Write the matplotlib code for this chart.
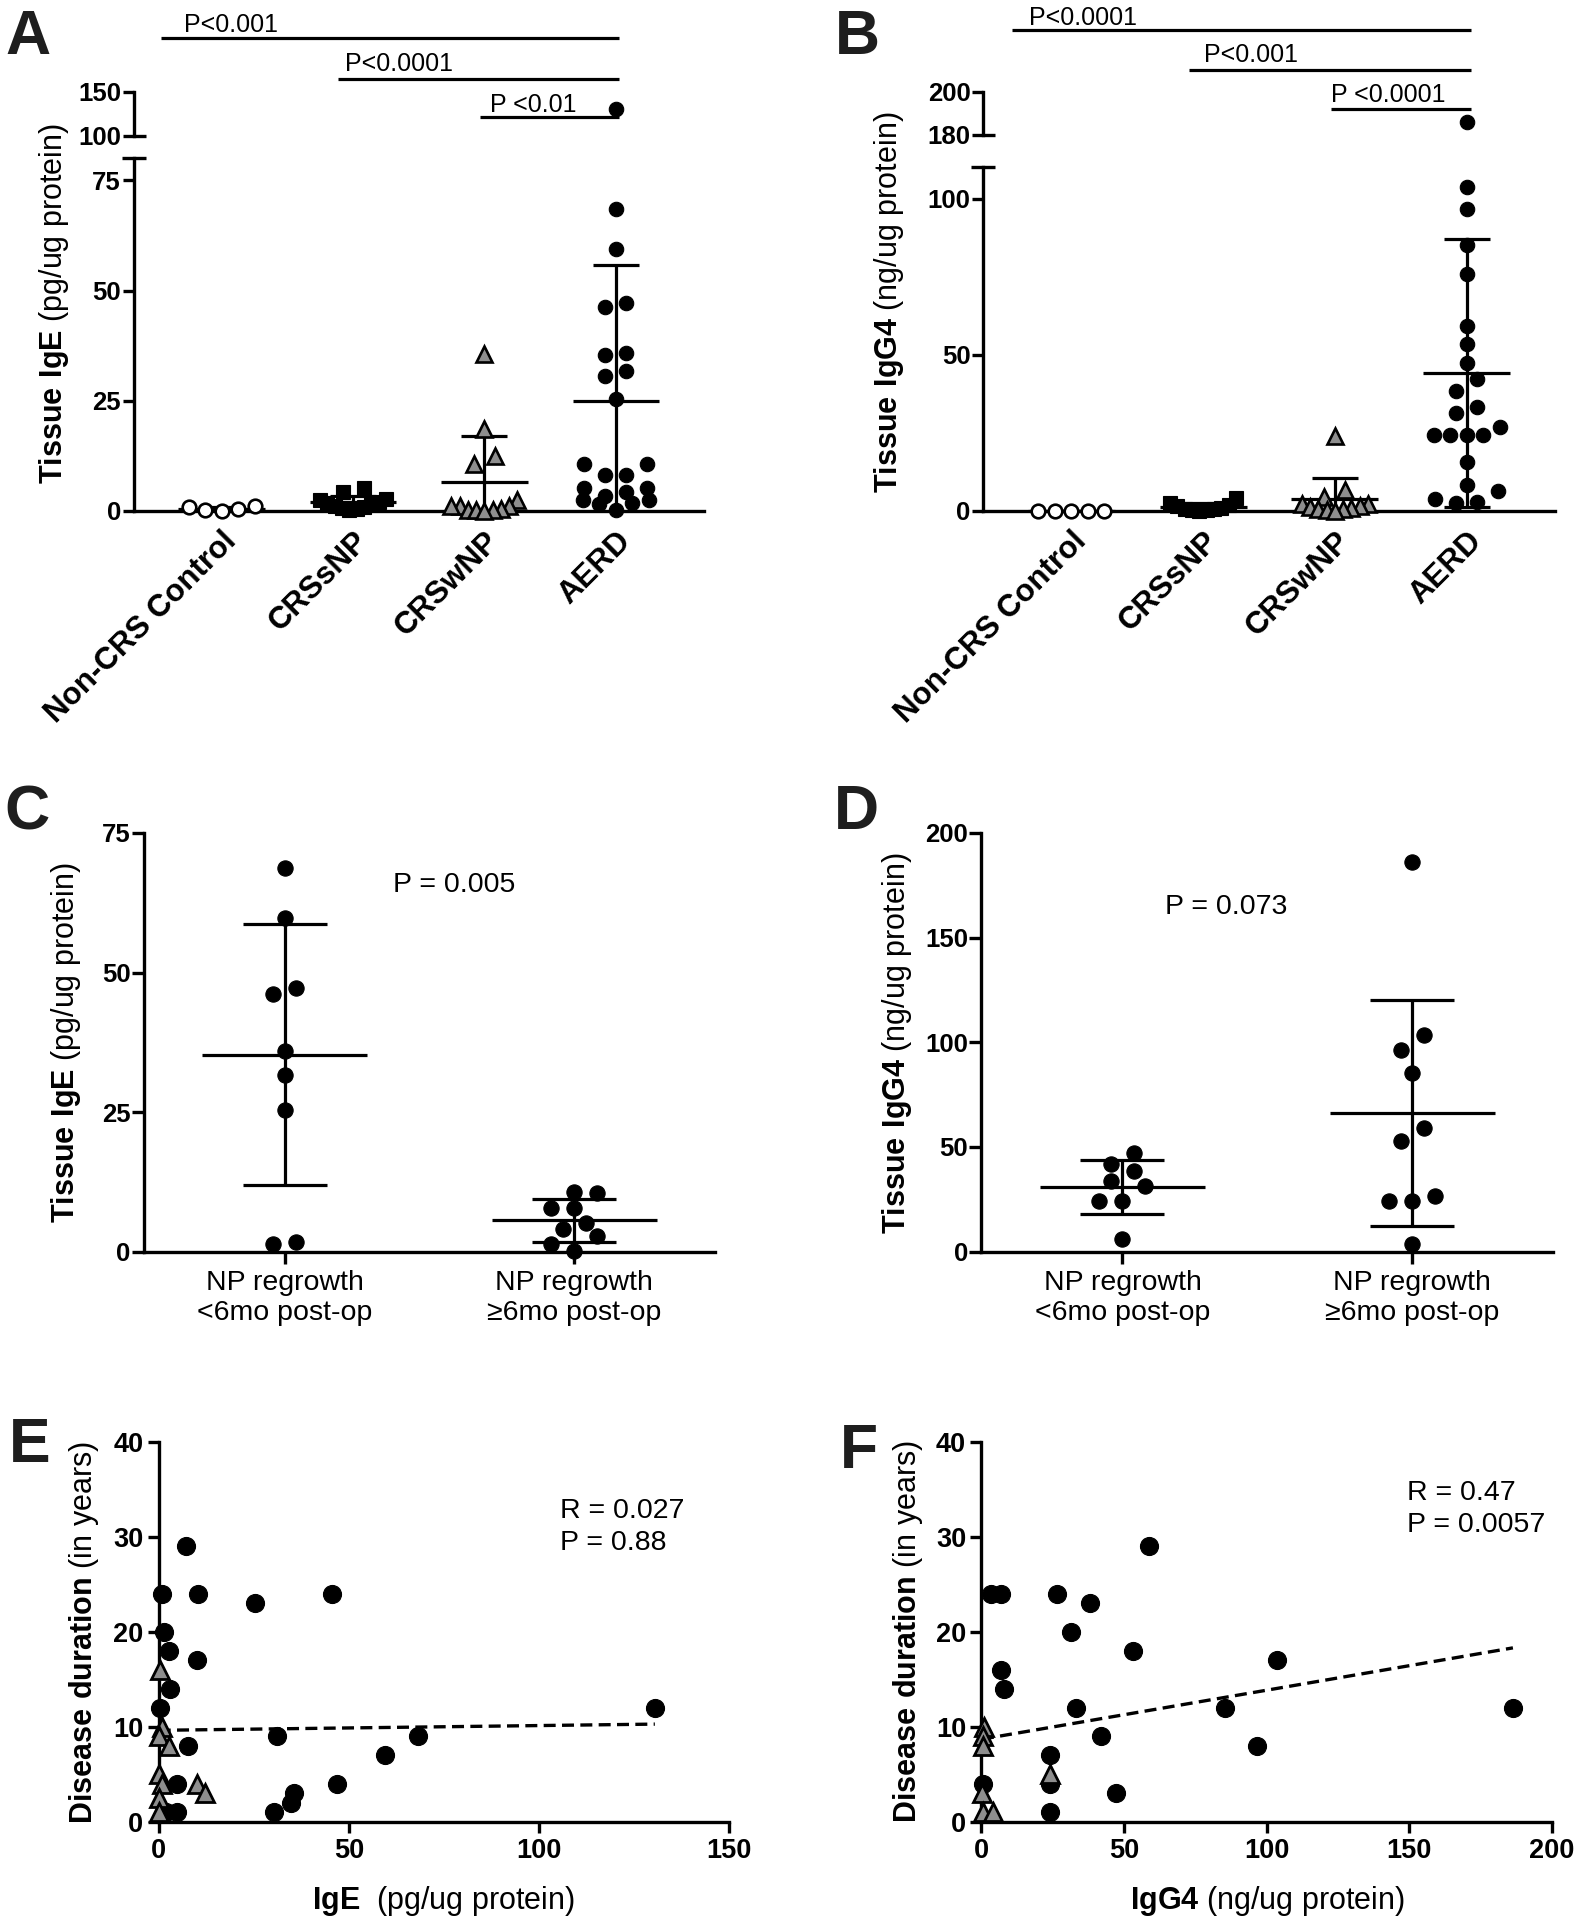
import numpy as np
import matplotlib
matplotlib.use("Agg")
import matplotlib.pyplot as plt
from matplotlib import transforms

# values
groups_ab = ["Non-CRS Control", "CRSsNP", "CRSwNP", "AERD"]

ige_control = [1.1, 0.4, 0.0, 0.3, 0.9]
ige_crssnp = [5.3, 4.2, 2.7, 2.5, 2.0, 1.8, 1.5, 1.2, 0.8, 0.6, 0.4, 0.2]
ige_crswnp = [35.5, 18.5, 12.5, 10.6, 2.6, 1.1, 1.1, 1.1, 0.5, 0.3, 0.2, 0.2, 0.0]
ige_aerd = [131, 68.5, 59.4, 47.2, 46.3, 35.9, 35.3, 31.7, 30.5, 25.5, 10.6, 10.6,
            8.1, 8.1, 5.3, 5.3, 4.3, 3.4, 2.6, 2.4, 1.9, 1.5, 0.2]
ige_pvals = ["P<0.001", "P<0.0001", "P <0.01"]

igg4_control = [0, 0, 0, 0, 0]
igg4_crssnp = [4.3, 2.7, 2.0, 1.5, 1.0, 0.8, 0.5, 0.4, 0.2, 0.1]
igg4_crswnp = [24.0, 6.7, 4.6, 2.4, 2.2, 1.5, 1.2, 1.0, 0.8, 0.5, 0.3, 0.1]
igg4_aerd = [186, 103.8, 96.7, 85.3, 75.8, 59.2, 53.4, 47.5, 42.2, 38.4, 33.4, 31.5,
             26.9, 24.2, 24.2, 24.2, 24.2, 15.7, 8.3, 6.4, 3.9, 2.9, 2.5]
igg4_pvals = ["P<0.0001", "P<0.001", "P <0.0001"]

regrowth_labels = ["NP regrowth\n<6mo post-op", "NP regrowth\n\u22656mo post-op"]
ige_early = [68.7, 59.8, 47.2, 46.1, 35.9, 31.6, 25.3, 1.8, 1.3]
ige_late = [10.7, 10.6, 7.8, 7.8, 5.1, 4.1, 2.9, 1.3, 0.1]
igg4_early = [47.2, 41.9, 38.3, 33.6, 31.3, 24.2, 24.2, 6.0]
igg4_late = [185.9, 103.7, 96.3, 85.5, 59.0, 53.0, 26.5, 24.2, 24.2, 3.9]
c_ptext = "P = 0.005"
d_ptext = "P = 0.073"

e_aerd_x = [7.3, 0.9, 10.3, 25.2, 45.7, 1.3, 2.6, 10.2, 3.0, 0.4, 130.5, 31.1, 68.2,
            7.6, 59.4, 4.9, 47.0, 35.5, 34.8, 30.2, 2.0, 4.9]
e_aerd_y = [29, 24, 24, 23, 24, 20, 18, 17, 14, 12, 12, 9, 9, 8, 7, 4, 4, 3, 2, 1, 1, 1]
e_crswnp_x = [0.3, 0.9, 0.0, 2.6, 0.0, 0.9, 10.2, 12.2, 0.0, 0.0]
e_crswnp_y = [16, 10, 9, 8, 5, 4, 4, 3, 2.5, 1]
e_fit = (9.62, 0.0050)
e_stats = ["R = 0.027", "P = 0.88"]

f_aerd_x = [58.7, 3.2, 6.7, 26.5, 38.2, 31.3, 53.0, 103.7, 6.7, 8.0, 33.2, 85.5, 186.4,
            42.0, 96.8, 23.9, 23.9, 47.3, 23.9, 0.5]
f_aerd_y = [29, 24, 24, 24, 23, 20, 18, 17, 16, 14, 12, 12, 12, 9, 8, 7, 4, 3, 1, 4]
f_crswnp_x = [0.9, 0.4, 0.4, 0.2, 0.5, 3.9, 23.9]
f_crswnp_y = [10, 9, 8, 3, 1, 1, 5]
f_fit = (8.68, 0.0516)
f_stats = ["R = 0.47", "P = 0.0057"]

W, H = 1580, 1920
GREY = "#8e8e8e"
LW = 2.4

plt.rcParams["font.family"] = ["Liberation Sans", "DejaVu Sans"]
plt.rcParams["mathtext.fontset"] = "custom"
plt.rcParams["mathtext.rm"] = "Liberation Sans"
plt.rcParams["mathtext.bf"] = "Liberation Sans:bold"
plt.rcParams["axes.linewidth"] = LW

fig = plt.figure(figsize=(W / 100, H / 100), dpi=100)


def box(x0, x1, y0, y1):
    # pixel edges -> figure fraction (y0 = top)
    return [x0 / W, 1 - y1 / H, (x1 - x0) / W, (y1 - y0) / H]


def fy(y):
    return 1 - y / H


def fx(x):
    return x / W


def swarm(ax, values, center, row_h, dx, maxspan):
    vals = np.asarray(values, float)
    p0 = ax.transData.transform((0, 0))
    p1 = ax.transData.transform((1, 1))
    sx, sy = p1[0] - p0[0], p1[1] - p0[1]
    order = np.argsort(vals, kind="stable")
    rows, cur, start = [], [], None
    for i in order:
        v = vals[i] * sy
        if cur and v - start > row_h:
            rows.append(cur)
            cur = []
        if not cur:
            start = v
        cur.append(i)
    rows.append(cur)
    off = np.zeros(len(vals))
    for row in rows:
        n = len(row)
        step = dx if n < 2 else min(dx, maxspan / (n - 1))
        slots = sorted((np.arange(n) - (n - 1) / 2) * step, key=lambda s: (abs(s), s))
        for i, s in zip(row, slots):
            off[i] = s / sx
    return center + off


def mean_sd(ax, values, center, half_mean, half_cap):
    m = np.mean(values)
    s = np.std(values, ddof=1)
    kw = dict(color="k", lw=2.3, zorder=2, capstyle="butt")
    ax.hlines(m, center - half_mean, center + half_mean, **kw)
    ax.vlines(center, m - s, m + s, **kw)
    ax.hlines([m - s, m + s], center - half_cap, center + half_cap, **kw)


def bold_ticks(ax, axis="y"):
    labels = ax.get_yticklabels() if axis == "y" else ax.get_xticklabels()
    plt.setp(labels, fontweight="bold")


def ylab(x, y, text):
    fig.text(fx(x), fy(y), text, rotation=90, rotation_mode="anchor",
             ha="center", va="baseline", fontsize=22)


def letter(x, y, s):
    fig.text(fx(x), fy(y), s, fontsize=45, fontweight="bold", color="#1e1e1e",
             ha="left", va="baseline")


styles_ab = [dict(marker="o", ms=9.8, mfc="white", mec="k", mew=1.9),
             dict(marker="s", ms=10.4, mfc="k", mec="k", mew=0.8),
             dict(marker="^", ms=11.8, mfc=GREY, mec="k", mew=1.9),
             dict(marker="o", ms=10.4, mfc="k", mec="k", mew=0.8)]


def dot_panel(lo_px, up_px, lo_lim, up_lim, lo_ticks, up_ticks, data, pvals, bars):
    ax = fig.add_axes(box(*lo_px))
    au = fig.add_axes(box(*up_px))
    for a in (ax, au):
        a.set_xlim(-0.67, 3.67)
        a.patch.set_visible(False)
        a.spines[["top", "right"]].set_visible(False)
    au.spines["bottom"].set_visible(False)
    ax.set_ylim(*lo_lim)
    au.set_ylim(*up_lim)
    ax.set_yticks(lo_ticks)
    au.set_yticks(up_ticks)
    au.set_xticks([])
    ax.set_xticks(range(len(groups_ab)), groups_ab, rotation=45, ha="right",
                  rotation_mode="anchor", fontsize=22.5, fontweight="bold")
    ax.tick_params(axis="x", length=0, pad=11)
    for a in (ax, au):
        a.tick_params(axis="y", length=8, width=LW, pad=1, labelsize=18.5)
        bold_ticks(a)

    for i, (vals, st) in enumerate(zip(data, styles_ab)):
        vals = np.asarray(vals, float)
        xs = swarm(ax, vals, i, 14, 21, 66)
        low = vals <= lo_lim[1]
        ax.plot(xs[low], vals[low], ls="none", clip_on=False, zorder=4, **st)
        if (~low).any():
            au.plot(xs[~low], vals[~low], ls="none", clip_on=False, zorder=4, **st)
        mean_sd(ax, vals, i, 0.33, 0.175)

    # axis break caps
    cw = 12 / (lo_px[1] - lo_px[0])
    ax.plot([-cw, cw], [lo_lim[1]] * 2, color="k", lw=LW, clip_on=False,
            solid_capstyle="butt",
            transform=transforms.blended_transform_factory(ax.transAxes, ax.transData))
    au.plot([0, cw], [up_lim[0]] * 2, color="k", lw=LW, clip_on=False,
            solid_capstyle="butt",
            transform=transforms.blended_transform_factory(au.transAxes, au.transData))

    tr = transforms.blended_transform_factory(ax.transData, fig.transFigure)
    for (x0, x1, yl, xt, yt), txt in zip(bars, pvals):
        ax.plot([x0, x1], [fy(yl)] * 2, transform=tr, color="k", lw=2.3,
                clip_on=False, solid_capstyle="butt")
        ax.text(xt, fy(yt), txt, transform=tr, fontsize=18, ha="left", va="baseline")
    return ax


# ---- A ----
dot_panel((133.5, 704, 158.2, 511), (133.5, 704, 91.8, 135.9), (0, 80), (100, 150),
          [0, 25, 50, 75], [100, 150],
          [ige_control, ige_crssnp, ige_crswnp, ige_aerd], ige_pvals,
          [(-0.458, 3.02, 37.5, -0.285, 32.5),
           (0.886, 3.02, 78.5, 0.94, 70.8),
           (1.967, 3.02, 116.7, 2.04, 111.7)])
ylab(62, 303, r"$\mathbf{Tissue\ IgE}$ (pg/ug protein)")
letter(5, 53.6, "A")

# ---- B ----
dot_panel((983, 1555, 167.4, 511), (983, 1555, 91.8, 134.7), (0, 110), (180, 200),
          [0, 50, 100], [180, 200],
          [igg4_control, igg4_crssnp, igg4_crswnp, igg4_aerd], igg4_pvals,
          [(-0.448, 3.03, 30.4, -0.324, 24.9),
           (0.896, 3.03, 70.4, 1.008, 62.5),
           (1.974, 3.03, 109.0, 1.974, 101.8)])
ylab(897, 302, r"$\mathbf{Tissue\ IgG4}$ (ng/ug protein)")
letter(835, 53.6, "B")


def np_panel(px, ylim, yticks, data, ptext, ppos):
    ax = fig.add_axes(box(*px))
    ax.spines[["top", "right"]].set_visible(False)
    ax.set_xlim(-0.487, 1.487)
    ax.set_ylim(*ylim)
    ax.set_yticks(yticks)
    ax.set_xticks([0, 1], regrowth_labels, fontsize=20.5, linespacing=1.2)
    ax.tick_params(axis="x", length=8.5, width=LW, pad=5)
    ax.tick_params(axis="y", length=8.5, width=LW, pad=1, labelsize=18.5)
    bold_ticks(ax)
    for i, vals in enumerate(data):
        vals = np.asarray(vals, float)
        xs = swarm(ax, vals, i, 16, 23, 70)
        ax.plot(xs, vals, ls="none", marker="o", ms=11.0, mfc="k", mec="k", mew=0.8,
                clip_on=False, zorder=4)
        mean_sd(ax, vals, i, 0.285, 0.145)
    fig.text(fx(ppos[0]), fy(ppos[1]), ptext, fontsize=20.5, ha="left", va="baseline")
    return ax


# ---- C ----
np_panel((143.6, 715.4, 832.9, 1251.7), (0, 75), [0, 25, 50, 75],
         [ige_early, ige_late], c_ptext, (393, 892))
ylab(74, 1042.8, r"$\mathbf{Tissue\ IgE}$ (pg/ug protein)")
letter(4, 829, "C")

# ---- D ----
np_panel((981.4, 1553.2, 832.9, 1251.7), (0, 200), [0, 50, 100, 150, 200],
         [igg4_early, igg4_late], d_ptext, (1165, 914))
ylab(905, 1042.9, r"$\mathbf{Tissue\ IgG4}$ (ng/ug protein)")
letter(834, 829, "D")


def corr_panel(px, xlim, xticks, cx, cy, tx, ty, fit, stats, spos, xlabel, xlpos):
    ax = fig.add_axes(box(*px))
    ax.spines[["top", "right"]].set_visible(False)
    ax.set_xlim(*xlim)
    ax.set_ylim(0, 40)
    ax.set_xticks(xticks)
    ax.set_yticks([0, 10, 20, 30, 40])
    ax.tick_params(axis="both", length=8, width=LW, labelsize=19.5)
    ax.tick_params(axis="y", pad=3)
    ax.tick_params(axis="x", pad=3.5)
    bold_ticks(ax, "y")
    bold_ticks(ax, "x")
    allx = np.r_[cx, tx]
    xx = np.array([allx.min(), allx.max()])
    ax.plot(xx, fit[0] + fit[1] * xx, color="k", lw=LW, ls=(0, (3.6, 1.9)), zorder=2)
    ax.plot(cx, cy, ls="none", marker="o", ms=13.0, mfc="k", mec="k", mew=0.8,
            clip_on=False, zorder=3)
    ax.plot(tx, ty, ls="none", marker="^", ms=13.0, mfc=GREY, mec="k", mew=2.0,
            clip_on=False, zorder=4)
    for k, s in enumerate(stats):
        fig.text(fx(spos[0]), fy(spos[1] + k * 31.7), s, fontsize=20.5,
                 ha="left", va="baseline")
    fig.text(fx(xlpos[0]), fy(xlpos[1]), xlabel, fontsize=22, ha="center", va="baseline")
    return ax


# ---- E ----
corr_panel((158.7, 729, 1441.7, 1821.7), (0, 150), [0, 50, 100, 150],
           e_aerd_x, e_aerd_y, e_crswnp_x, e_crswnp_y, e_fit, e_stats, (560, 1518.3),
           r"$\mathbf{IgE}$  (pg/ug protein)", (443.6, 1908.6))
ylab(92, 1632.5, r"$\mathbf{Disease\ duration}$ (in years)")
letter(9, 1461.7, "E")

# ---- F ----
corr_panel((981.4, 1551.7, 1441.7, 1821.7), (0, 200), [0, 50, 100, 150, 200],
           f_aerd_x, f_aerd_y, f_crswnp_x, f_crswnp_y, f_fit, f_stats, (1407, 1500),
           r"$\mathbf{IgG4}$ (ng/ug protein)", (1267.3, 1908.6))
ylab(916, 1631.7, r"$\mathbf{Disease\ duration}$ (in years)")
letter(840, 1468, "F")

fig.savefig("out.png", dpi=100)
